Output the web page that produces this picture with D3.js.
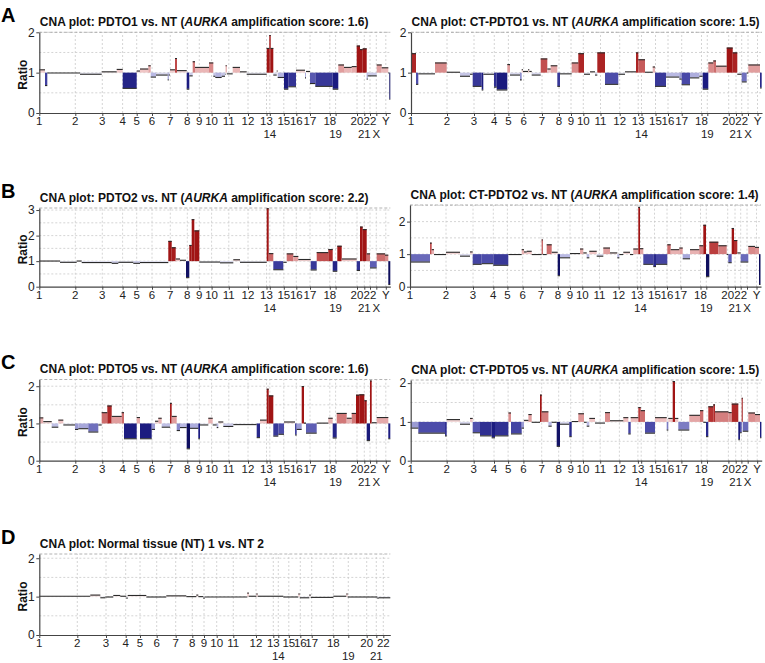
<!DOCTYPE html>
<html><head><meta charset="utf-8">
<script src="https://cdn.jsdelivr.net/npm/d3@7"></script>
<style>
body{margin:0;background:#fff;}
svg{display:block;font-family:"Liberation Sans",Arial,Helvetica,sans-serif;}
</style>
</head><body>
<svg id="chart" width="765" height="663"></svg>
<script>
// ---------- DATA ----------
const chromNames = ["1","2","3","4","5","6","7","8","9","10","11","12","13","14","15","16","17","18","19","20","21","22","X","Y"];
const secondRowChroms = ["14","19","21","X"];
// chromosome start positions (bin index) for the tumour panels
const chromStarts = [0,36,63,83.3,97.4,112.7,131,148,160,172.3,189.5,208.7,227.2,230.5,244.5,257,270.7,290.5,296.3,317.7,325,330.7,337,346.5];
// chromosome starts for the normal-vs-normal panel (autosomes only)
const chromNamesD = chromNames.slice(0,22);
const chromStartsD = [0,38,66.7,86.4,100.7,117.4,136.4,153,164.7,177.4,194,216.7,234,239,249.5,261,272.4,294,309,327.4,337,344];
const genomeEnd = 351;

const samples = ["PDTO1","CT-PDTO1","PDTO2","CT-PDTO2","PDTO5","CT-PDTO5"];
const aurkaScores = [1.6,1.5,2.2,1.4,1.6,1.5];

// segments: [start bin, end bin, ratio]
const segPDTO1 = [
 [0,5.7,1.08],[5.7,8,0.69],[8,40.7,1.0],[40.7,62.4,0.97],[62.4,77.4,1.03],[77.4,83.4,1.09],
 [83.4,97.4,0.62],[97.4,100.7,1.05],[100.7,109,1.1],[109,111.4,1.18],[111.4,116.7,0.9],
 [116.7,128.4,0.95],[128.4,129.4,0.83],[129.4,130.7,0.95],[130.7,135.7,1.08],[135.7,137.7,1.36],
 [137.7,147.4,1.06],[147.4,150,0.6],[150,153.4,0.93],[153.4,155.7,1.28],[155.7,169.7,1.14],
 [169.7,174,1.25],[174,176,0.92],[176,182.4,0.89],[182.4,185.7,0.92],[185.7,186.3,0.97],
 [186.3,187.5,1.18],[187.5,193.4,0.98],[193.4,200.7,1.14],[200.7,207.4,1.03],[207.4,227.4,0.97],
 [227.4,230,1.61],[230,231.4,1.93],[231.4,234,1.61],[234,237.4,0.95],[237.4,238.4,1.05],
 [238.4,244.7,0.89],[244.7,249,0.6],[249,256.7,0.66],[256.7,265.7,1.07],[265.7,266.7,0.88],
 [266.7,270.7,1.04],[270.7,276,0.74],[276,293.4,0.67],[293.4,299,0.6],[299,304.7,1.2],
 [304.7,312.4,1.14],[312.4,317.4,1.16],[317.4,320.7,1.67],[320.7,323.4,1.58],[323.4,327.4,1.6],
 [327.4,328.4,0.85],[328.4,337.4,0.93],[337.4,342.4,1.2],[342.4,349,1.13],[349,350,1.0],[350,351,0.35]
];
const segCTPDTO1 = [
 [0,5,1.48],[5,7.3,0.72],[7.3,24,0.98],[24,35.7,1.25],[35.7,49,1.02],[49,59,0.92],[59,61.7,0.97],
 [61.7,70.7,0.67],[70.7,72.3,0.58],[72.3,83,0.97],[83,85.7,0.65],[85.7,96.3,0.58],[96.3,99,1.21],
 [99,109,0.95],[109,110.7,0.83],[110.7,112,1.08],[112,117,1.04],[117,118.3,1.08],[118.3,120.7,1.04],
 [120.7,129.7,0.95],[129.7,136.3,1.35],[136.3,139.7,1.1],[139.7,146.3,1.18],[146.3,149,0.67],
 [149,160.7,0.98],[160.7,167.3,1.25],[167.3,173,1.48],[173,179,0.97],[179,184,1.03],[184,186.3,0.95],
 [186.3,194,1.5],[194,207.3,0.72],[207.3,214,0.97],[214,225,1.03],[225,227.3,1.5],[227.3,234,1.33],
 [234,241.7,1.02],[241.7,244,1.15],[244,255,0.67],[255,268.3,0.9],[268.3,270.7,0.85],[270.7,279,0.71],
 [279,288.3,0.88],[288.3,291.7,0.92],[291.7,297.3,0.6],[297.3,302.3,1.25],[302.3,305,1.3],
 [305,315.7,1.17],[315.7,321.7,1.62],[321.7,326.3,1.5],[326.3,330.7,0.97],[330.7,335.7,0.78],
 [335.7,337.3,1.0],[337.3,349,1.2],[349,350.7,0.63]
];
const segPDTO2 = [
 [0,20.7,1.02],[20.7,37.4,0.97],[37.4,42.4,1.02],[42.4,72.4,0.96],[72.4,79,0.93],[79,94,0.97],
 [94,100.7,0.93],[100.7,129,0.96],[129,132.4,1.79],[132.4,136.4,1.54],[136.4,140.7,1.1],
 [140.7,146.7,1.05],[146.7,150,0.37],[150,152.4,1.63],[152.4,155,2.64],[155,160,2.2],
 [160,180.7,0.98],[180.7,194,0.95],[194,200.7,1.07],[200.7,227.4,0.97],[227.4,229.4,3.07],
 [229.4,234,1.31],[234,244,0.68],[244,247.4,0.97],[247.4,254,1.3],[254,259,1.2],[259,271.4,1.08],
 [271.4,277.4,0.67],[277.4,289,1.35],[289,293.4,1.47],[293.4,298,0.62],[298,302.4,1.6],
 [302.4,317.4,1.1],[317.4,320.7,0.65],[320.7,323.4,2.35],[323.4,327.4,2.25],[327.4,330.7,1.3],
 [330.7,337.4,0.75],[337.4,345.7,1.3],[345.7,349,1.25],[349,351,0.1]
];
const segCTPDTO2 = [
 [0,20,0.77],[20,21.7,1.35],[21.7,24,1.15],[24,36,1.0],[36,50,1.07],[50,60,0.95],[60,62.7,1.08],
 [62.7,71.7,0.7],[71.7,83.3,0.72],[83.3,98.3,0.67],[98.3,111.7,1.0],[111.7,114,1.15],[114,116.7,1.08],
 [116.7,121.7,1.1],[121.7,131.7,1.0],[131.7,132.7,1.45],[132.7,136.7,1.0],[136.7,141.7,1.3],
 [141.7,147.7,1.07],[147.7,150,0.35],[150,160,0.9],[160,170,1.03],[170,173.3,1.17],[173.3,176.7,1.05],
 [176.7,179.3,0.9],[179.3,186.7,1.1],[186.7,193.3,0.95],[193.3,200,1.2],[200,207.3,1.05],
 [207.3,209.3,0.9],[209.3,213.3,1.0],[213.3,220,1.07],[220,223.3,1.0],[223.3,228.3,1.17],
 [228.3,230,2.45],[230,233.3,1.18],[233.3,243.3,0.7],[243.3,246,0.63],[246,257.3,0.7],
 [257.3,260.7,1.3],[260.7,269.3,1.15],[269.3,272.7,1.2],[272.7,280,0.87],[280,289.3,1.15],
 [289.3,293.3,1.27],[293.3,296,1.9],[296,299.3,0.32],[299.3,308.3,1.38],[308.3,316.7,1.27],
 [316.7,318.3,1.0],[318.3,321.7,0.75],[321.7,324,1.8],[324,327.3,1.43],[327.3,330.7,1.05],
 [330.7,338.3,0.77],[338.3,345,1.25],[345,349,1.22],[349,350.5,0.08]
];
const segPDTO5 = [
 [0,4,1.16],[4,12.4,1.06],[12.4,19,0.91],[19,24,1.1],[24,35.7,0.97],[35.7,39,0.85],[39,49,0.87],
 [49,59,0.78],[59,62.4,0.97],[62.4,68,1.3],[68,72.4,1.48],[72.4,82.4,1.2],[82.4,84.7,1.3],
 [84.7,97.4,0.6],[97.4,100.7,1.17],[100.7,112.4,0.6],[112.4,115.7,0.85],[115.7,119,1.07],
 [119,122.4,1.15],[122.4,130.7,0.91],[130.7,132.4,1.55],[132.4,137.4,1.2],[137.4,140.7,0.82],
 [140.7,147.4,0.9],[147.4,150.7,0.33],[150.7,159,0.88],[159,160.7,0.6],[160.7,169,0.97],
 [169,173.4,1.15],[173.4,177.4,0.97],[177.4,179,0.9],[179,184,1.05],[184,194,0.93],[194,217.4,0.98],
 [217.4,220.7,0.63],[220.7,227.4,1.1],[227.4,229.4,1.93],[229.4,234,1.75],[234,239,0.67],
 [239,244.7,0.72],[244.7,255.7,1.05],[255.7,257.4,0.7],[257.4,262.4,0.85],[262.4,264.7,2.0],
 [264.7,266.7,1.02],[266.7,277.4,0.75],[277.4,289,1.02],[289,293.4,1.15],[293.4,297.4,0.62],
 [297.4,307.4,1.28],[307.4,312.4,1.15],[312.4,316.7,1.28],[316.7,320,1.77],[320,325,1.78],
 [325,327.4,1.62],[327.4,330.7,0.55],[330.7,332.4,2.15],[332.4,337.4,1.03],[337.4,349,1.17],[349,351,0.6]
];
const segCTPDTO5 = [
 [0,7.6,0.85],[7.6,34.3,0.72],[34.3,36,0.65],[36,49.3,1.07],[49.3,59.3,0.95],[59.3,62,1.1],
 [62,69.3,0.73],[69.3,81,0.65],[81,84.3,0.6],[84.3,97.7,0.65],[97.7,100.3,1.24],[100.3,111,0.7],
 [111,113.3,0.85],[113.3,117.7,1.05],[117.7,121,1.2],[121,129.3,1.0],[129.3,131,1.7],[131,137.7,1.27],
 [137.7,141,0.9],[141,146,1.0],[146,149.3,0.38],[149.3,158.6,0.95],[158.6,161,0.63],[161,167.6,1.02],
 [167.6,173.3,1.22],[173.3,176,1.0],[176,178.6,0.9],[178.6,184.3,1.1],[184.3,194.3,0.98],
 [194.3,199.3,1.25],[199.3,212.6,1.04],[212.6,217.6,1.12],[217.6,220,0.7],[220,227.6,1.12],
 [227.6,230,1.38],[230,234.3,1.3],[234.3,244.3,0.72],[244.3,256,1.12],[256,257.6,0.8],
 [257.6,262,1.1],[262,264.3,2.05],[264.3,267.6,1.1],[267.6,278.6,0.8],[278.6,289.3,1.18],
 [289.3,292.6,1.3],[292.6,295.3,1.0],[295.3,297.6,0.63],[297.6,302.6,1.4],[302.6,304.3,1.45],
 [304.3,317.6,1.27],[317.6,321,1.25],[321,327.6,1.47],[327.6,329.3,0.55],[329.3,331,0.73],
 [331,332,1.62],[332,337.6,0.77],[337.6,344.3,1.24],[344.3,349.3,1.2],[349.3,350.7,0.6]
];
const segNormal = [
 [0,51,1.02],[51,61,1.05],[61,66,0.98],[66,74,1.0],[74,81,1.04],[81,87,1.02],[87,88.4,0.97],
 [88.4,107,1.04],[107,127,1.0],[127,147,1.03],[147,157,1.01],[157,159,1.05],[159,164,1.01],
 [164,165.4,0.97],[165.4,208,1.0],[208,209.5,1.1],[209.5,217,1.02],[217,218.4,1.08],[218.4,244,1.02],
 [244,259,1.0],[259,260.5,1.08],[260.5,270,0.98],[270,271.4,1.05],[271.4,294,0.99],[294,307,1.02],
 [307,308.4,1.08],[308.4,338,1.0],[338,339.4,0.97],[339.4,351,0.98]
];

// ---------- LAYOUT ----------
const panelDefs = [
 {letter:"A", seg:segPDTO1,   idx:0, left:39.3, top:32.3, bottom:113,   ymax:2.0,  ratio:true},
 {letter:null,seg:segCTPDTO1, idx:1, left:411,  top:32.3, bottom:113,   ymax:2.0,  ratio:false},
 {letter:"B", seg:segPDTO2,   idx:2, left:39.3, top:208,  bottom:286.7, ymax:3.08, ratio:true},
 {letter:null,seg:segCTPDTO2, idx:3, left:410,  top:205,  bottom:286.7, ymax:2.51, ratio:false},
 {letter:"C", seg:segPDTO5,   idx:4, left:39.3, top:379.5,bottom:460.7, ymax:2.18, ratio:true},
 {letter:null,seg:segCTPDTO5, idx:5, left:410.7,top:380,  bottom:460.7, ymax:2.08, ratio:false},
 {letter:"D", seg:segNormal,  idx:-1,left:39.3, top:554,  bottom:635,   ymax:2.11, ratio:true}
];
const plotWidth = 351;

const colorScale = d3.scaleLinear()
  .domain([0.3, 0.6, 0.72, 0.9, 1.0, 1.1, 1.25, 1.4, 1.6])
  .range(["#0e0e5c","#1c1c80","#4c4caa","#b9b9e3","#f4f4f4","#f0c6c6","#d98a8a","#b63232","#a01414"])
  .clamp(true);

const svg = d3.select("#chart");
const gridColor = "#c9c9c9";
const axisColor = "#444";

panelDefs.forEach(p => {
  const isNormal = p.idx < 0;
  const names = isNormal ? chromNamesD : chromNames;
  const starts = isNormal ? chromStartsD : chromStarts;
  const x = d3.scaleLinear().domain([0, genomeEnd]).range([p.left, p.left + plotWidth]);
  const y = d3.scaleLinear().domain([0, p.ymax]).range([p.bottom, p.top]);
  const g = svg.append("g");

  // horizontal grid
  g.selectAll(null).data(d3.range(0.5, p.ymax + 1e-6, 0.5)).join("line")
    .attr("x1", x(0)).attr("x2", x(genomeEnd))
    .attr("y1", d => y(d)).attr("y2", d => y(d))
    .attr("stroke", gridColor).attr("stroke-width", 0.8).attr("stroke-dasharray", "2,2");
  // top border
  g.append("line").attr("x1", x(0)).attr("x2", x(genomeEnd))
    .attr("y1", y(p.ymax)).attr("y2", y(p.ymax))
    .attr("stroke", "#a0a0a0").attr("stroke-width", 0.8).attr("stroke-dasharray", "3,2");
  // vertical grid at chromosome starts
  g.selectAll(null).data(starts.slice(1)).join("line")
    .attr("x1", d => x(d)).attr("x2", d => x(d))
    .attr("y1", y(0)).attr("y2", y(p.ymax))
    .attr("stroke", gridColor).attr("stroke-width", 0.8).attr("stroke-dasharray", "2,2");

  // bars
  g.selectAll(null).data(p.seg).join("rect")
    .attr("x", d => x(d[0]))
    .attr("width", d => Math.max(0.9, x(d[1]) - x(d[0])))
    .attr("y", d => Math.min(y(d[2]), y(1)))
    .attr("height", d => Math.abs(y(d[2]) - y(1)))
    .attr("fill", d => colorScale(d[2]));
  // segment level lines
  g.selectAll(null).data(p.seg).join("line")
    .attr("x1", d => x(d[0])).attr("x2", d => x(d[1]))
    .attr("y1", d => y(d[2]) + 0.4).attr("y2", d => y(d[2]) + 0.4)
    .attr("stroke", "#2a2a2a").attr("stroke-width", 1.1);

  // y axis
  const yAxis = d3.axisLeft(y).tickValues(d3.range(0, Math.floor(p.ymax + 1e-6) + 1))
    .tickFormat(d3.format("d")).tickSize(3).tickSizeOuter(0).tickPadding(1.5);
  const ya = g.append("g").attr("transform", `translate(${x(0)},0)`).call(yAxis);
  ya.select(".domain").attr("stroke", axisColor).attr("stroke-width", 1.2);
  ya.selectAll(".tick line").attr("stroke", axisColor);
  ya.selectAll(".tick text").attr("font-size", "12px").attr("fill", "#222")
    .attr("font-family", '"Liberation Sans",Arial,sans-serif');

  // x axis (ticks at chromosome starts)
  const xAxis = d3.axisBottom(x).tickValues(starts).tickFormat("").tickSize(3).tickSizeOuter(0);
  const xa = g.append("g").attr("transform", `translate(0,${y(0)})`).call(xAxis);
  xa.select(".domain").attr("stroke", axisColor).attr("stroke-width", 1.2);
  xa.selectAll(".tick line").attr("stroke", axisColor);

  g.selectAll(null).data(starts).join("text")
    .attr("x", d => x(d))
    .attr("y", (d, i) => y(0) + (secondRowChroms.includes(names[i]) ? 25 : 12))
    .attr("text-anchor", "middle").attr("font-size", "11.5px").attr("fill", "#222")
    .text((d, i) => names[i]);

  // title
  const t = g.append("text").attr("x", x(0) + 0.5).attr("y", p.top - 6.5)
    .attr("font-size", "12px").attr("font-weight", "bold").attr("fill", "#111");
  if (isNormal) {
    t.text("CNA plot: Normal tissue (NT) 1 vs. NT 2");
  } else {
    t.append("tspan").text(`CNA plot: ${samples[p.idx]} vs. NT (`);
    t.append("tspan").attr("font-style", "italic").text("AURKA");
    t.append("tspan").text(` amplification score: ${aurkaScores[p.idx]})`);
  }

  if (p.ratio) {
    g.append("text").attr("transform", `translate(${27},${(y(0) + y(p.ymax)) / 2 + 2}) rotate(-90)`)
      .attr("text-anchor", "middle").attr("font-size", "12px").attr("font-weight", "bold")
      .attr("fill", "#111").text("Ratio");
  }
  if (p.letter) {
    svg.append("text").attr("x", 1).attr("y", p.top - 10.5)
      .attr("font-size", "20px").attr("font-weight", "bold").attr("fill", "#000").text(p.letter);
  }
});
</script>
</body></html>
